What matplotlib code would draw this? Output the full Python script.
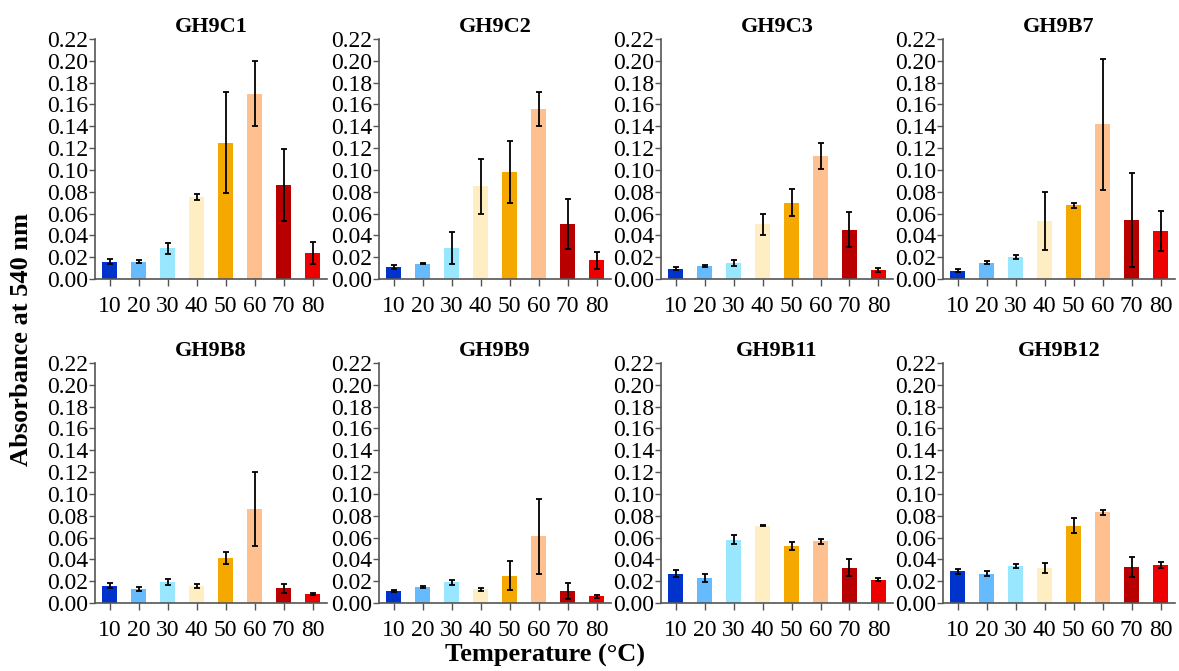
import matplotlib
matplotlib.use("Agg")
import matplotlib.pyplot as plt
import numpy as np

# temperatures (x categories)
temps = ['10', '20', '30', '40', '50', '60', '70', '80']
bar_colors = ['#0033cc', '#66bbff', '#99e6ff', '#ffeec2',
              '#f5a800', '#ffc090', '#b80000', '#ee0000']

panels = ['GH9C1', 'GH9C2', 'GH9C3', 'GH9B7',
          'GH9B8', 'GH9B9', 'GH9B11', 'GH9B12']

# mean absorbance at 540 nm, one list per enzyme
gh9c1 = [0.016, 0.016, 0.028, 0.075, 0.125, 0.170, 0.086, 0.024]
gh9c2 = [0.011, 0.014, 0.028, 0.085, 0.098, 0.156, 0.050, 0.017]
gh9c3 = [0.0095, 0.012, 0.015, 0.050, 0.070, 0.113, 0.045, 0.008]
gh9b7 = [0.0075, 0.015, 0.020, 0.053, 0.0675, 0.142, 0.054, 0.044]
gh9b8 = [0.016, 0.013, 0.019, 0.0155, 0.041, 0.086, 0.0135, 0.008]
gh9b9 = [0.011, 0.015, 0.019, 0.0125, 0.025, 0.061, 0.011, 0.006]
gh9b11 = [0.027, 0.023, 0.058, 0.071, 0.0525, 0.0565, 0.0325, 0.0215]
gh9b12 = [0.029, 0.027, 0.034, 0.032, 0.071, 0.083, 0.033, 0.035]

# standard deviations
gh9c1_err = [0.0025, 0.0015, 0.0048, 0.003, 0.046, 0.030, 0.033, 0.010]
gh9c2_err = [0.0015, 0.0006, 0.0147, 0.025, 0.0284, 0.0153, 0.0229, 0.008]
gh9c3_err = [0.0015, 0.001, 0.0027, 0.010, 0.0127, 0.0118, 0.016, 0.002]
gh9b7_err = [0.0015, 0.0012, 0.002, 0.0266, 0.002, 0.060, 0.043, 0.0183]
gh9b8_err = [0.0026, 0.0018, 0.0028, 0.0017, 0.0057, 0.034, 0.0043, 0.001]
gh9b9_err = [0.0012, 0.001, 0.0025, 0.0012, 0.0132, 0.0343, 0.007, 0.0012]
gh9b11_err = [0.0034, 0.0034, 0.0043, 0.0008, 0.0036, 0.0021, 0.0078, 0.001]
gh9b12_err = [0.0026, 0.0026, 0.0016, 0.0046, 0.0067, 0.0024, 0.0092, 0.0026]

means = [gh9c1, gh9c2, gh9c3, gh9b7, gh9b8, gh9b9, gh9b11, gh9b12]
errs = [gh9c1_err, gh9c2_err, gh9c3_err, gh9b7_err,
        gh9b8_err, gh9b9_err, gh9b11_err, gh9b12_err]

yticks = np.arange(0, 0.2201, 0.02)

W, H = 1179, 671
plt.rcParams['font.family'] = 'Liberation Serif'

fig = plt.figure(figsize=(W / 100, H / 100), dpi=100)

# axes positions in pixels (left, top of plot area)
lefts = [95, 379, 661, 943]
tops = [39, 363]
ax_w, ax_h = 232, 240

for i, name in enumerate(panels):
    row, col = divmod(i, 4)
    l = lefts[col]
    t = tops[row]
    ax = fig.add_axes([l / W, 1 - (t + ax_h) / H, ax_w / W, ax_h / H])
    x = np.arange(len(temps))
    ax.bar(x, means[i], width=0.55, color=bar_colors)
    ax.errorbar(x, means[i], yerr=errs[i], fmt='none', ecolor='black',
                elinewidth=1.3, capsize=2.5, capthick=1.3)
    ax.set_xlim(-0.5, 7.5)
    ax.set_ylim(0, 0.22)
    ax.set_yticks(yticks)
    ax.set_yticklabels(['%.2f' % v for v in yticks])
    ax.set_xticks(x)
    ax.set_xticklabels(temps)
    ax.tick_params(axis='both', labelsize=17, color='#555555', width=1)
    ax.tick_params(axis='x', length=5, pad=7)
    ax.tick_params(axis='y', length=4, pad=1)
    for s in ['top', 'right']:
        ax.spines[s].set_visible(False)
    for s in ['left', 'bottom']:
        ax.spines[s].set_color('#555555')
        ax.spines[s].set_linewidth(1.2)
    ax.set_title(name, fontsize=16, fontweight='bold', pad=5)

fig.text(22 / W, 1 - 340 / H, 'Absorbance at 540 nm', rotation=90,
         fontsize=19, fontweight='bold', ha='center', va='center')
fig.text(545 / W, 1 - 655 / H, 'Temperature (°C)',
         fontsize=19, fontweight='bold', ha='center', va='center')

fig.savefig('out.png', dpi=100)
